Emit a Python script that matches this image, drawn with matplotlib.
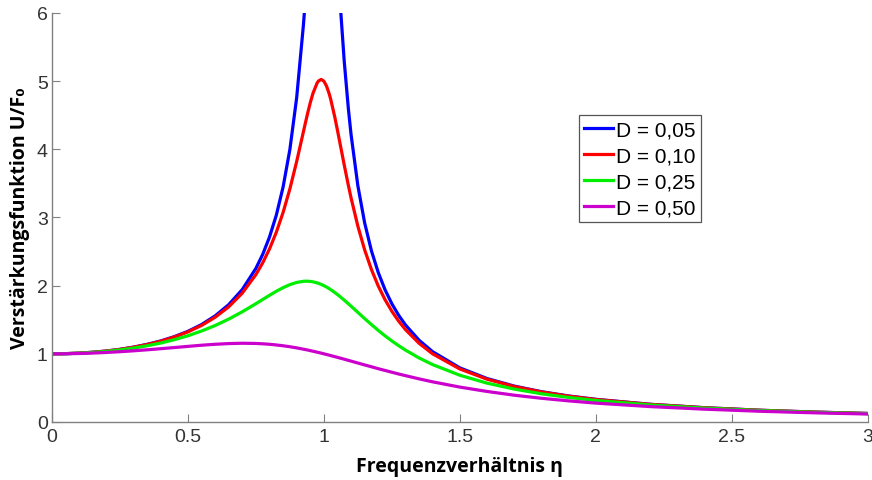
import matplotlib
matplotlib.use("Agg")
import matplotlib.pyplot as plt
from matplotlib import font_manager

eta = [0.0, 0.05, 0.1, 0.15, 0.2, 0.25, 0.3, 0.35, 0.4, 0.45, 0.5, 0.55, 0.6, 0.65, 0.7, 0.75,
       0.775, 0.8, 0.825, 0.85, 0.875, 0.9, 0.925, 0.93, 0.94, 0.95, 0.96, 0.975, 0.98, 0.99, 1.0,
       1.01, 1.02, 1.025, 1.04, 1.05, 1.06, 1.075, 1.09, 1.1, 1.125, 1.15, 1.175, 1.2, 1.225,
       1.25, 1.275, 1.3, 1.35, 1.4,
       1.5, 1.6, 1.7, 1.8, 1.9, 2.0,
       2.2, 2.4, 2.6, 2.8, 3.0]

v_005 = [1.000, 1.002, 1.010, 1.023, 1.041, 1.066, 1.098, 1.139, 1.189, 1.252, 1.330, 1.429, 1.556, 1.721, 1.943, 2.253,
         2.458, 2.712, 3.032, 3.446, 3.997, 4.757, 5.832, 6.097, 6.684, 7.346, 8.068, 9.150, 9.461, 9.903, 10.0,
         9.711, 9.115, 8.747, 7.565, 6.815, 6.141, 5.287, 4.600, 4.218, 3.467, 2.921, 2.510, 2.193, 1.940,
         1.735, 1.566, 1.424, 1.200, 1.031,
         0.794, 0.638, 0.527, 0.445, 0.382, 0.333,
         0.260, 0.210, 0.173, 0.146, 0.125]
v_010 = [1.000, 1.003, 1.010, 1.023, 1.041, 1.065, 1.097, 1.136, 1.185, 1.246, 1.322, 1.416, 1.536, 1.689, 1.891, 2.162,
         2.334, 2.538, 2.782, 3.073, 3.419, 3.821, 4.261, 4.350, 4.523, 4.683, 4.822, 4.971, 5.001, 5.025, 5.000,
         4.926, 4.809, 4.736, 4.476, 4.279, 4.075, 3.768, 3.473, 3.288, 2.873, 2.525, 2.236, 1.995, 1.794,
         1.625, 1.480, 1.356, 1.155, 1.000,
         0.778, 0.628, 0.521, 0.441, 0.379, 0.330,
         0.259, 0.209, 0.173, 0.146, 0.125]
v_025 = [1.000, 1.002, 1.009, 1.020, 1.036, 1.057, 1.084, 1.118, 1.158, 1.207, 1.265, 1.334, 1.415, 1.509, 1.617, 1.735,
         1.797, 1.858, 1.917, 1.970, 2.015, 2.047, 2.064, 2.065, 2.065, 2.062, 2.056, 2.041, 2.034, 2.019, 2.000,
         1.979, 1.955, 1.942, 1.900, 1.870, 1.838, 1.787, 1.735, 1.699, 1.608, 1.517, 1.429, 1.344, 1.264,
         1.189, 1.120, 1.055, 0.940, 0.842,
         0.686, 0.570, 0.483, 0.414, 0.360, 0.316,
         0.250, 0.204, 0.169, 0.143, 0.123]
v_050 = [1.000, 1.001, 1.005, 1.011, 1.020, 1.031, 1.044, 1.059, 1.075, 1.092, 1.109, 1.126, 1.140, 1.150, 1.155, 1.152,
         1.147, 1.140, 1.130, 1.118, 1.104, 1.087, 1.068, 1.064, 1.056, 1.047, 1.038, 1.024, 1.020, 1.010, 1.000,
         0.990, 0.980, 0.974, 0.959, 0.948, 0.937, 0.921, 0.904, 0.893, 0.865, 0.837, 0.810, 0.782, 0.756,
         0.730, 0.704, 0.680, 0.633, 0.589,
         0.512, 0.448, 0.393, 0.348, 0.310, 0.277,
         0.226, 0.188, 0.158, 0.135, 0.117]

labels = ["D = 0,05", "D = 0,10", "D = 0,25", "D = 0,50"]
colors = ["#0000ff", "#ff0000", "#00ee00", "#cc00cc"]
series = [v_005, v_010, v_025, v_050]

xticks = [0, 0.5, 1, 1.5, 2, 2.5, 3]
xticklabels = ["0", "0.5", "1", "1.5", "2", "2.5", "3"]
yticks = [0, 1, 2, 3, 4, 5, 6]

avail = {f.name for f in font_manager.fontManager.ttflist}
tick_font = "Liberation Sans Narrow" if "Liberation Sans Narrow" in avail else "Liberation Sans"
label_font = "Liberation Sans Narrow" if "Liberation Sans Narrow" in avail else "Open Sans"

fig = plt.figure(figsize=(8.72, 4.81), dpi=100)
ax = fig.add_axes([0.0596, 0.1206, 0.9354, 0.8504])

for vals, lab, col in zip(series, labels, colors):
    ax.plot(eta, vals, color=col, lw=2.3, label=lab, solid_joinstyle="round")

ax.set_xlim(0, 3)
ax.set_ylim(0, 6)
ax.set_xticks(xticks)
ax.set_xticklabels(xticklabels)
ax.set_yticks(yticks)
for s in ["top", "right"]:
    ax.spines[s].set_visible(False)
for s in ["left", "bottom"]:
    ax.spines[s].set_color("#808080")
    ax.spines[s].set_linewidth(1.0)
ax.tick_params(direction="in", length=6, width=0.8, color="#808080",
               labelsize=14, labelcolor="#333333")
ax.tick_params(axis="x", pad=4)
ax.tick_params(axis="y", pad=3)
for t in ax.get_xticklabels() + ax.get_yticklabels():
    t.set_fontfamily([tick_font, "DejaVu Sans"])

ax.set_xlabel("Frequenzverhältnis η", fontsize=14, fontweight="bold",
              family=[label_font, "DejaVu Sans"], labelpad=8)
ax.set_ylabel("Verstärkungsfunktion U/F₀", fontsize=14, fontweight="bold",
              family=[label_font, "DejaVu Sans"], labelpad=5)

leg = ax.legend(loc="upper left", bbox_to_anchor=(0.646, 0.75), frameon=True,
                fancybox=False, edgecolor="#555555", framealpha=1,
                prop={"family": [tick_font, "DejaVu Sans"], "size": 15},
                handlelength=1.4, handletextpad=0.15, labelspacing=0.33,
                borderpad=0.25, borderaxespad=0)
leg.get_frame().set_linewidth(0.9)

fig.savefig("out.png", dpi=100)
